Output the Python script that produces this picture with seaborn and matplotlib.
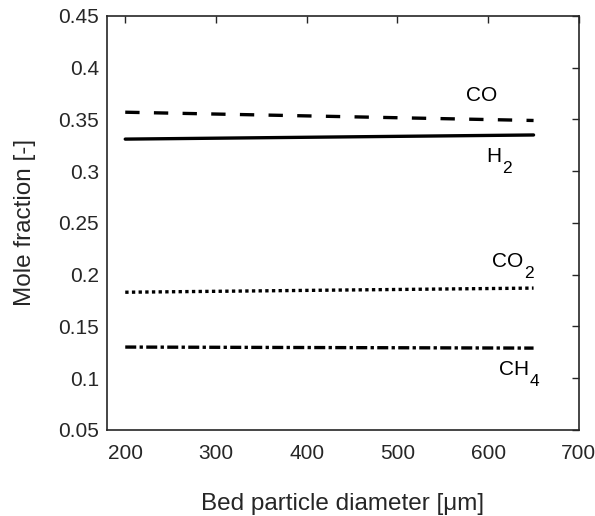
import matplotlib
matplotlib.use("Agg")
import matplotlib.pyplot as plt
import seaborn as sns
import pandas as pd

diameter = [200, 650]
co = [0.357, 0.349]
h2 = [0.331, 0.335]
co2 = [0.183, 0.187]
ch4 = [0.130, 0.129]

xticks = [200, 300, 400, 500, 600, 700]
yticks = [0.05, 0.1, 0.15, 0.2, 0.25, 0.3, 0.35, 0.4, 0.45]
ytick_labels = ["0.05", "0.1", "0.15", "0.2", "0.25", "0.3", "0.35", "0.4", "0.45"]

# series labels: base text, subscript, anchor (left, baseline)
label_base = ["CO", "H", "CO", "CH"]
label_sub = ["", "2", "2", "4"]
label_x = [575.5, 597.5, 604.1, 611.9]
label_y = [0.3679, 0.3089, 0.2075, 0.1031]

sns.set_theme(style="white")
plt.rcParams['font.family'] = ['Liberation Sans', 'DejaVu Sans']

df = pd.DataFrame({
    "d": diameter * 4,
    "y": co + h2 + co2 + ch4,
    "gas": ["CO"] * 2 + ["H2"] * 2 + ["CO2"] * 2 + ["CH4"] * 2,
})

fig = plt.figure(figsize=(5.95, 5.16), dpi=100)
ax = fig.add_axes([0.180, 0.167, 0.793, 0.802])

dashes = {"CO": (4.3, 4.3), "H2": "", "CO2": (1, 1), "CH4": (3.3, 1, 1, 1)}
sns.lineplot(data=df, x="d", y="y", style="gas", dashes=dashes,
             color="black", linewidth=2.4, ax=ax, legend=False)

ax.set_xlim(180, 700)
ax.set_ylim(0.05, 0.45)
ax.set_xticks(xticks)
ax.set_yticks(yticks)
ax.set_yticklabels(ytick_labels)
ax.tick_params(direction="in", length=5, width=1, top=True, right=True,
               labelsize=15, colors="#262626", pad=6)
ax.tick_params(axis="x", pad=10)
for s in ax.spines.values():
    s.set_color("#262626")
    s.set_linewidth(1.2)

ax.set_xlabel("Bed particle diameter [μm]", fontsize=17.5, color="#262626", labelpad=22)
ax.set_ylabel("Mole fraction [-]", fontsize=17.5, color="#262626", labelpad=16)

for b, s, x, y in zip(label_base, label_sub, label_x, label_y):
    t = ax.text(x, y, b, fontsize=15, ha="left", va="baseline", color="black")
    if s:
        ax.annotate(s, xy=(1, y), xycoords=(t, "data"), xytext=(1, -11),
                    textcoords="offset pixels", fontsize=12.5,
                    ha="left", va="baseline", color="black")

fig.savefig("out.png", dpi=100)
